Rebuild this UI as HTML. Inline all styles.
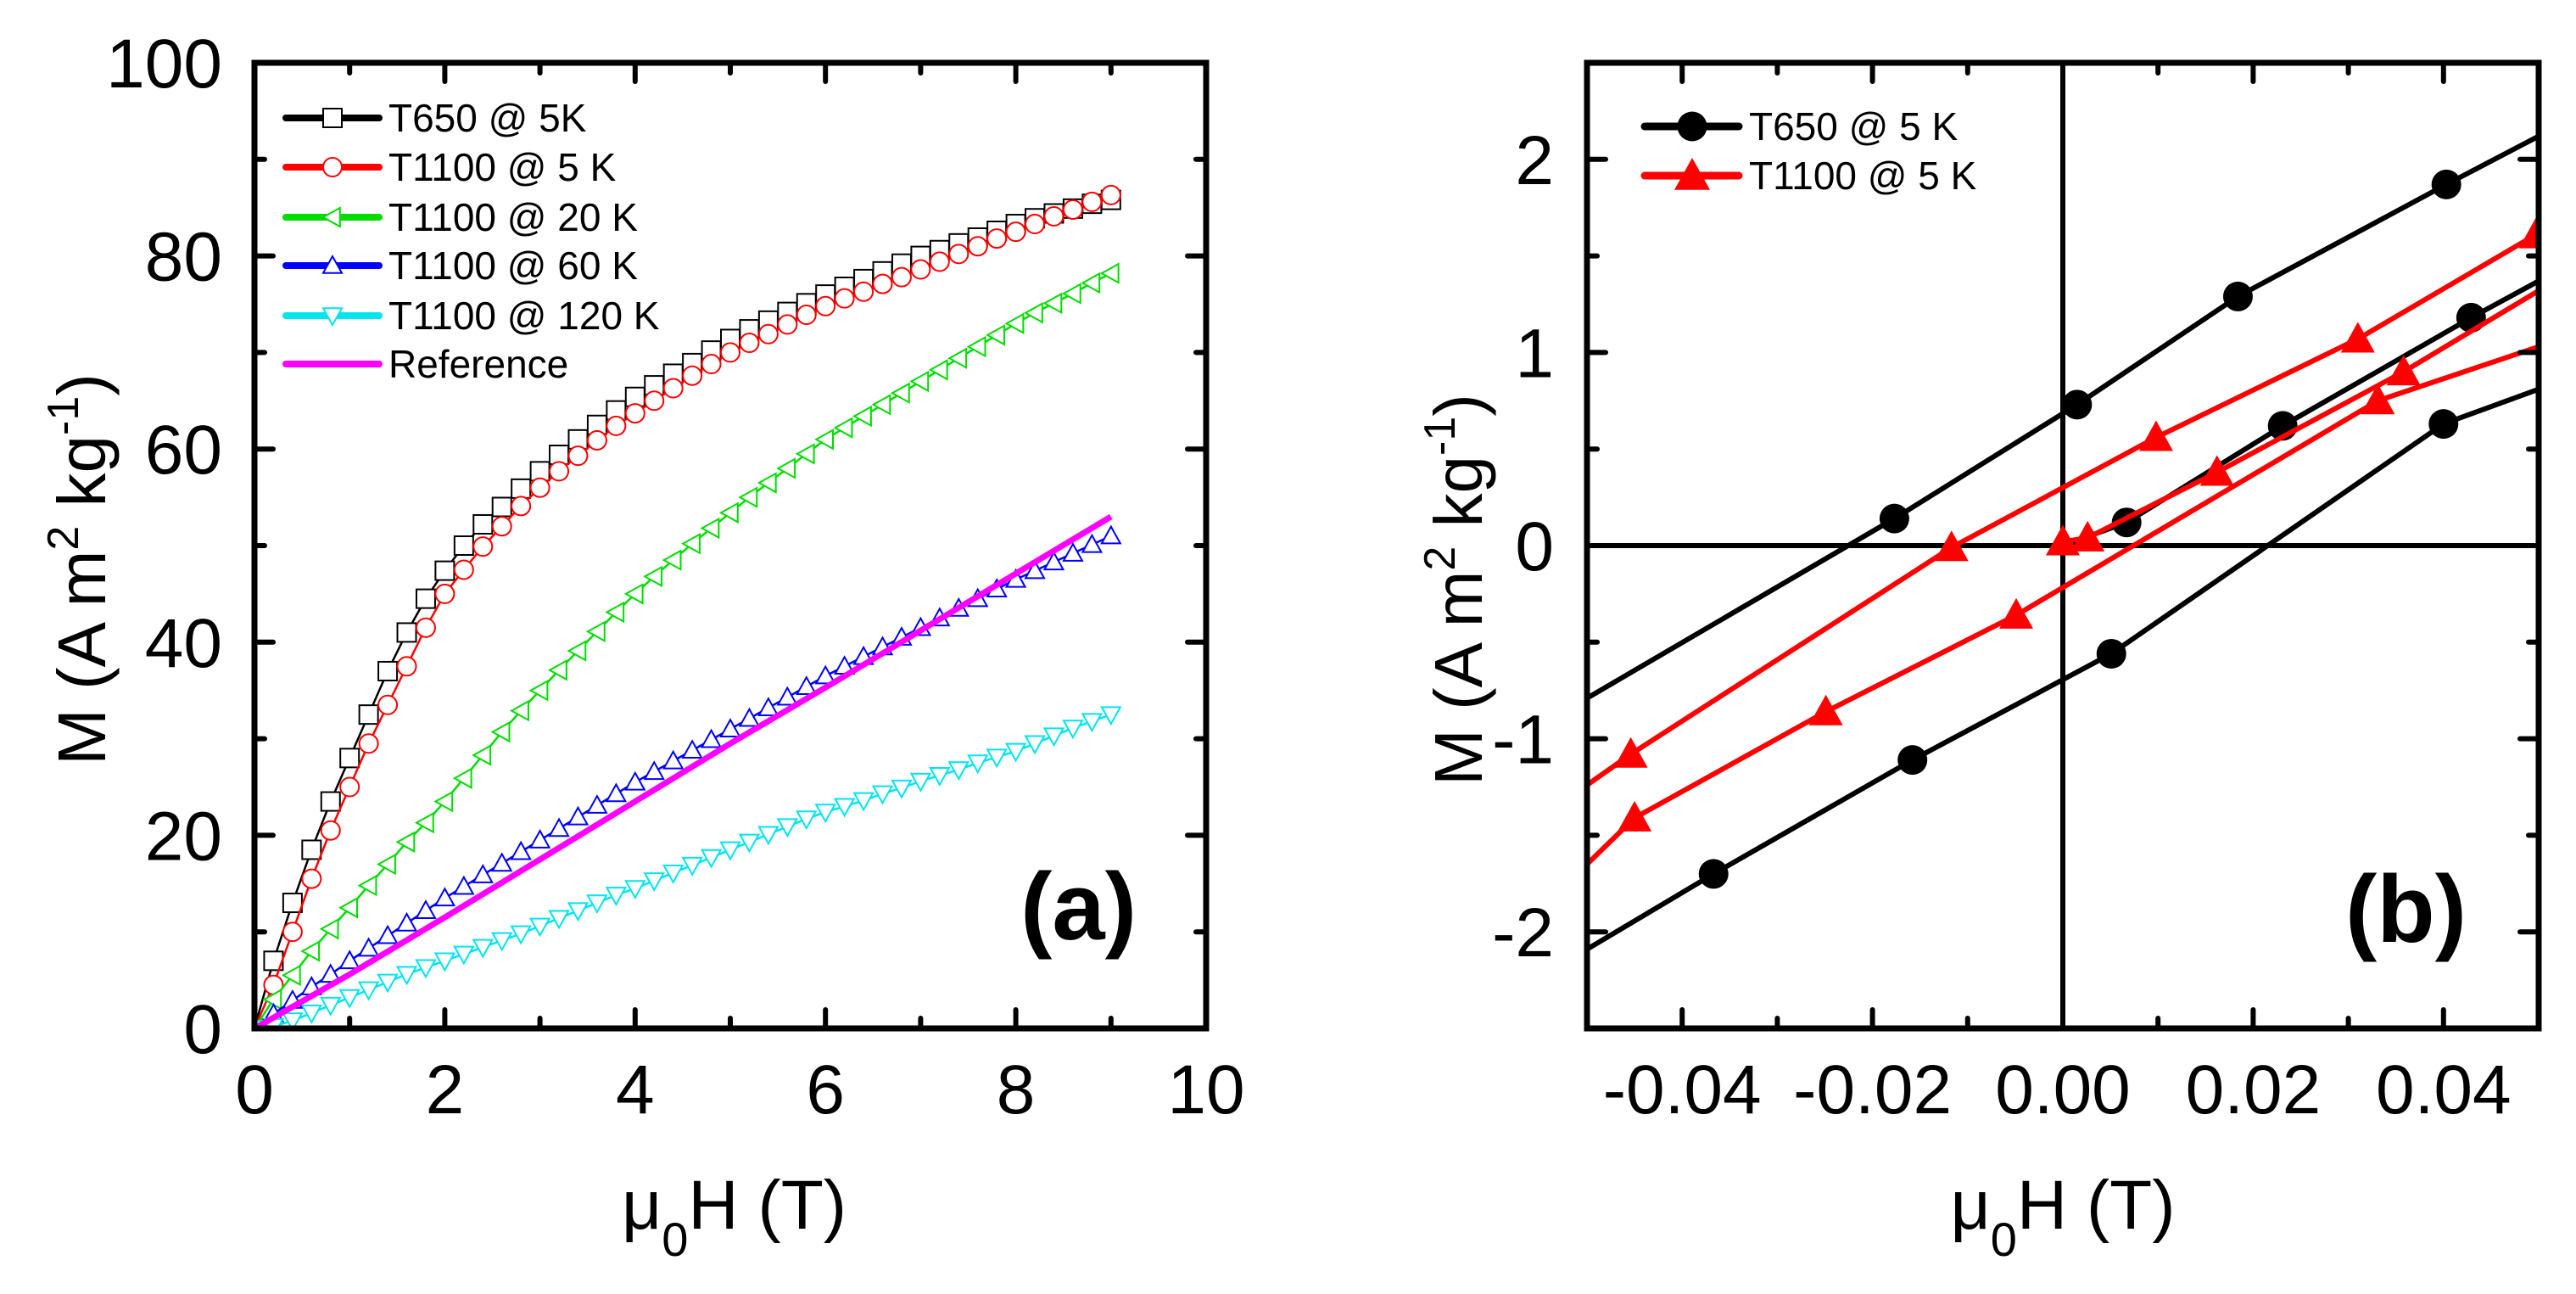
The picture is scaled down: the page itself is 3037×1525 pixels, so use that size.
<!DOCTYPE html>
<html><head><meta charset="utf-8"><style>
html,body{margin:0;padding:0;background:#fff;}
svg{display:block;font-family:"Liberation Sans",Arial,sans-serif;}
</style></head><body>
<svg id="fig" width="3037" height="1525" viewBox="0 0 3037 1525" xmlns="http://www.w3.org/2000/svg">
<defs>
<clipPath id="clipA"><rect x="300" y="74" width="1122" height="1138"/></clipPath>
<clipPath id="clipB"><rect x="1871" y="74" width="1122" height="1138"/></clipPath>
</defs>
<g id="panelA"></g>
<g id="panelB"></g>
</svg>
<script>
// ---------- Panel (a) data ----------
const hField = [0,0.2,0.4,0.6,0.8,1,1.2,1.4,1.6,1.8,2,2.2,2.4,2.6,2.8,3,3.2,3.4,3.6,3.8,4,4.2,4.4,4.6,4.8,5,5.2,5.4,5.6,5.8,6,6.2,6.4,6.6,6.8,7,7.2,7.4,7.6,7.8,8,8.2,8.4,8.6,8.8,9];
const mT650_5K = [0,7,13,18.5,23.5,28,32.5,37,41,44.5,47.4,50,52.2,54,55.9,57.7,59.4,61,62.5,64,65.4,66.6,67.8,68.9,70.2,71.4,72.4,73.3,74.2,75.1,76,76.8,77.6,78.4,79.2,80,80.6,81.3,81.9,82.6,83.3,83.9,84.4,84.9,85.4,85.8];
const mT1100_5K = [0,4.5,10,15.5,20.5,25,29.5,33.5,37.5,41.5,45,47.5,49.9,52,54.1,56,57.7,59.3,60.9,62.4,63.7,65,66.3,67.6,68.8,70,71,71.9,72.9,73.9,74.8,75.6,76.3,77.1,77.8,78.6,79.4,80.2,81,81.8,82.5,83.3,84.1,84.8,85.6,86.3];
const mT1100_20K = [0,3,5.5,8,10.3,12.5,14.8,17,19.3,21.3,23.5,25.9,28.3,30.7,32.9,35,37.1,39.1,41.1,43.1,45,46.8,48.5,50.2,51.8,53.4,55,56.5,58,59.5,61,62.2,63.4,64.6,65.8,67,68.2,69.4,70.6,71.8,73,74.1,75.1,76.1,77.2,78.2];
const mT1100_60K = [0,1.5,2.9,4.3,5.6,7,8.3,9.6,10.9,12.2,13.5,14.7,15.9,17.1,18.3,19.5,20.7,21.9,23.1,24.3,25.5,26.6,27.7,28.8,29.9,31,32.1,33.2,34.3,35.4,36.5,37.5,38.5,39.5,40.5,41.5,42.5,43.5,44.5,45.5,46.5,47.4,48.3,49.2,50.1,51];
const mT1100_120K = [0,0.2,0.8,1.6,2.4,3.2,4,4.8,5.6,6.3,7,7.7,8.4,9.1,9.8,10.6,11.4,12.2,13,13.8,14.5,15.3,16.1,16.9,17.7,18.5,19.3,20.1,20.9,21.7,22.4,23,23.6,24.3,24.9,25.6,26.2,26.8,27.5,28.1,28.7,29.5,30.3,31.1,31.8,32.5];
const refField = [0,1,2,3,4,5,6,7,8,9];
const refM = [0,5.6,11.5,17.5,23.5,29.5,35.3,41.2,47.1,53];
const aXTicks = [0,2,4,6,8,10];
const aYTicks = [0,20,40,60,80,100];
const aLegend = ["T650 @ 5K","T1100 @ 5 K","T1100 @ 20 K","T1100 @ 60 K","T1100 @ 120 K","Reference"];

// ---------- Panel (b) data ----------
const t650UpX = [0.0500,0.0403,0.0184,0.0015,-0.0177,-0.0500];
const t650UpY = [2.12,1.87,1.29,0.73,0.14,-0.79];
const t650UpMark = [0,1,1,1,1,0];
const t650DownX = [-0.0500,-0.0367,-0.0158,0.0051,0.0400,0.0500];
const t650DownY = [-2.09,-1.70,-1.11,-0.56,0.63,0.81];
const t650DownMark = [0,1,1,1,1,0];
const t650VirginX = [0,0.0067,0.0231,0.0429,0.0500];
const t650VirginY = [0,0.12,0.62,1.18,1.37];
const t650VirginMark = [0,1,1,1,0];
const t1100UpX = [0.0497,0.0310,0.0098,-0.0117,-0.0454,-0.0500];
const t1100UpY = [1.61,1.07,0.56,-0.01,-1.08,-1.24];
const t1100UpMark = [1,1,1,1,1,0];
const t1100DownX = [-0.0500,-0.0450,-0.0249,-0.0049,0.0331,0.0500];
const t1100DownY = [-1.65,-1.41,-0.86,-0.36,0.75,1.03];
const t1100DownMark = [0,1,1,1,1,0];
const t1100VirginX = [0,0.0026,0.0162,0.0358,0.0500];
const t1100VirginY = [0.02,0.04,0.38,0.90,1.32];
const t1100VirginMark = [1,1,1,1,0];
const bXTicks = [-0.04,-0.02,0.00,0.02,0.04];
const bXTickLabels = ["-0.04","-0.02","0.00","0.02","0.04"];
const bYTicks = [-2,-1,0,1,2];
const bLegend = ["T650 @ 5 K","T1100 @ 5 K"];

const NS = "http://www.w3.org/2000/svg";
function mk(tag, attrs, parent){const e=document.createElementNS(NS,tag);for(const k in attrs)e.setAttribute(k,attrs[k]);parent.appendChild(e);return e;}

const A = {x0:300,x1:1422,y0:1212,y1:74,xmin:0,xmax:10,ymin:0,ymax:100};
const B = {x0:1871,x1:2993,y0:1212,y1:74,xmin:-0.05,xmax:0.05,ymin:-2.5,ymax:2.5};
function sx(P,v){return P.x0+(v-P.xmin)/(P.xmax-P.xmin)*(P.x1-P.x0);}
function sy(P,v){return P.y0-(v-P.ymin)/(P.ymax-P.ymin)*(P.y0-P.y1);}

function frameAndTicks(P,g,xMajor,xMinorStep,yMajor,yMinorStep){
  const f=mk('rect',{x:P.x0,y:P.y1,width:P.x1-P.x0,height:P.y0-P.y1,fill:'none',stroke:'#000','stroke-width':7},g);
  
  
  const tg=mk('g',{stroke:'#000','stroke-width':6,'stroke-linecap':'round'},g);
  
  
  const nx=Math.round((P.xmax-P.xmin)/xMinorStep);
  for(let i=0;i<=nx;i++){
    const v=P.xmin+i*xMinorStep; const X=sx(P,v);
    const major=xMajor.some(t=>Math.abs(t-v)<xMinorStep*0.01);
    const L=major?22:12;
    mk('line',{x1:X,y1:P.y0,x2:X,y2:P.y0-L},tg);
    mk('line',{x1:X,y1:P.y1,x2:X,y2:P.y1+L},tg);
  }
  const ny=Math.round((P.ymax-P.ymin)/yMinorStep);
  for(let i=0;i<=ny;i++){
    const v=P.ymin+i*yMinorStep; const Y=sy(P,v);
    const major=yMajor.some(t=>Math.abs(t-v)<yMinorStep*0.01);
    const L=major?22:12;
    mk('line',{x1:P.x0,y1:Y,x2:P.x0+L,y2:Y},tg);
    mk('line',{x1:P.x1,y1:Y,x2:P.x1-L,y2:Y},tg);
  }
}
function tickLabels(P,g,xt,xl,yt,yRight){
  xt.forEach((v,i)=>{const t=mk('text',{x:sx(P,v),y:1312,'font-size':82,'text-anchor':'middle'},g);t.textContent=xl[i];
    
    });
  yt.forEach(v=>{const t=mk('text',{x:yRight,y:sy(P,v)+29,'font-size':82,'text-anchor':'end'},g);t.textContent=String(v);
    
    });
}
function marker(g,type,x,y,s,color,fill,sw){
  let e;
  if(type==='square') e=mk('rect',{x:x-s/2,y:y-s/2,width:s,height:s},g);
  else if(type==='circle') e=mk('circle',{cx:x,cy:y,r:s/2},g);
  else {
    const h=s*0.5; let pts;
    if(type==='up') pts=[[x,y-h],[x-h,y+h*0.8],[x+h,y+h*0.8]];
    else if(type==='down') pts=[[x,y+h],[x-h,y-h*0.8],[x+h,y-h*0.8]];
    else pts=[[x-h,y],[x+h*0.8,y-h],[x+h*0.8,y+h]];
    e=mk('polygon',{points:pts.map(p=>p.join(',')).join(' ')},g);
  }
  e.setAttribute('fill',fill); e.setAttribute('stroke',color); e.setAttribute('stroke-width',sw);
  return e;
}

// ---------- Build panel (a) ----------
const gA=document.getElementById('panelA');
const dA=mk('g',{'clip-path':'url(#clipA)'},gA);


const seriesA=[
 {name:'series-t650-5k',m:mT650_5K,c:'#000000',t:'square'},
 {name:'series-t1100-5k',m:mT1100_5K,c:'#ff0000',t:'circle'},
 {name:'series-t1100-20k',m:mT1100_20K,c:'#00dd00',t:'left'},
 {name:'series-t1100-60k',m:mT1100_60K,c:'#0000ff',t:'up'},
 {name:'series-t1100-120k',m:mT1100_120K,c:'#00e5ee',t:'down'}
];
seriesA.forEach(s=>{
  const g=mk('g',{},dA);
  
  
  mk('polyline',{points:hField.map((h,i)=>sx(A,h)+','+sy(A,s.m[i])).join(' '),fill:'none',stroke:s.c,'stroke-width':2.5},g);
  hField.forEach((h,i)=>{const e=marker(g,s.t,sx(A,h),sy(A,s.m[i]),22,s.c,'#fff',2);
    
    });
});
const refLine=mk('polyline',{points:refField.map((h,i)=>sx(A,h)+','+sy(A,refM[i])).join(' '),fill:'none',stroke:'#ff00ff','stroke-width':7},dA);


frameAndTicks(A,gA,aXTicks,1,aYTicks,10);
tickLabels(A,gA,aXTicks,aXTicks.map(String),aYTicks,262);
const legA=mk('g',{},gA);


const legAY=[139,197,256,313,372,429];
const legACol=['#000000','#ff0000','#00dd00','#0000ff','#00e5ee','#ff00ff'];
const legAType=['square','circle','left','up','down',null];
aLegend.forEach((lab,i)=>{
  const g=mk('g',{},legA);
  
  
  mk('line',{x1:337,y1:legAY[i],x2:447,y2:legAY[i],stroke:legACol[i],'stroke-width':8,'stroke-linecap':'round'},g);
  if(legAType[i]) marker(g,legAType[i],392,legAY[i],22,legACol[i],'#fff',2);
  const t=mk('text',{x:458,y:legAY[i]+16,'font-size':46},g); t.textContent=lab;
});
const la=mk('text',{x:1340,y:1107,'font-size':112,'font-weight':'bold','text-anchor':'end'},gA);
la.textContent='(a)';


const xta=mk('text',{x:733,y:1448,'font-size':82},gA);
xta.innerHTML='μ<tspan font-size="56" dy="32">0</tspan><tspan dy="-32">H (T)</tspan>';


const yta=mk('text',{x:0,y:0,'font-size':80,'text-anchor':'middle',transform:'translate(124,671) rotate(-90)'},gA);
yta.innerHTML='M (A m<tspan font-size="52" dy="-32">2</tspan><tspan dy="32"> kg</tspan><tspan font-size="52" dy="-32">-1</tspan><tspan dy="32">)</tspan>';



// ---------- Build panel (b) ----------
const gB=document.getElementById('panelB');
const dB=mk('g',{'clip-path':'url(#clipB)'},gB);


const zx=mk('line',{x1:sx(B,0),y1:B.y1,x2:sx(B,0),y2:B.y0,stroke:'#000','stroke-width':6},dB);


const zy=mk('line',{x1:B.x0,y1:sy(B,0),x2:B.x1,y2:sy(B,0),stroke:'#000','stroke-width':6},dB);


const branches=[
 {name:'t650-descending',x:t650UpX,y:t650UpY,m:t650UpMark,c:'#000',t:'circle'},
 {name:'t650-ascending',x:t650DownX,y:t650DownY,m:t650DownMark,c:'#000',t:'circle'},
 {name:'t650-virgin',x:t650VirginX,y:t650VirginY,m:t650VirginMark,c:'#000',t:'circle'},
 {name:'t1100-descending',x:t1100UpX,y:t1100UpY,m:t1100UpMark,c:'#ff0000',t:'up'},
 {name:'t1100-ascending',x:t1100DownX,y:t1100DownY,m:t1100DownMark,c:'#ff0000',t:'up'},
 {name:'t1100-virgin',x:t1100VirginX,y:t1100VirginY,m:t1100VirginMark,c:'#ff0000',t:'up'}
];
branches.forEach(b=>{
  const g=mk('g',{},dB);
  
  
  mk('polyline',{points:b.x.map((v,i)=>sx(B,v)+','+sy(B,b.y[i])).join(' '),fill:'none',stroke:b.c,'stroke-width':6},g);
  b.x.forEach((v,i)=>{ if(b.m[i]){const e=marker(g,b.t,sx(B,v),sy(B,b.y[i]),b.t==='circle'?35:40,b.c,b.c,0);
    
    }});
});
frameAndTicks(B,gB,bXTicks,0.01,bYTicks,0.5);
tickLabels(B,gB,bXTicks,bXTickLabels,bYTicks,1832);
const legB=mk('g',{},gB);


const legBY=[149,207], legBCol=['#000','#ff0000'], legBType=['circle','up'];
bLegend.forEach((lab,i)=>{
  const g=mk('g',{},legB);
  
  
  mk('line',{x1:1939,y1:legBY[i],x2:2050,y2:legBY[i],stroke:legBCol[i],'stroke-width':9,'stroke-linecap':'round'},g);
  marker(g,legBType[i],1995,legBY[i],legBType[i]==='circle'?35:42,legBCol[i],legBCol[i],0);
  const t=mk('text',{x:2062,y:legBY[i]+16,'font-size':46},g); t.textContent=lab;
});
const lb=mk('text',{x:2908,y:1110,'font-size':112,'font-weight':'bold','text-anchor':'end'},gB);
lb.textContent='(b)';


const xtb=mk('text',{x:2432,y:1448,'font-size':82,'text-anchor':'middle'},gB);
xtb.innerHTML='μ<tspan font-size="56" dy="32">0</tspan><tspan dy="-32">H (T)</tspan>';


const ytb=mk('text',{x:0,y:0,'font-size':80,'text-anchor':'middle',transform:'translate(1747,695) rotate(-90)'},gB);
ytb.innerHTML='M (A m<tspan font-size="52" dy="-32">2</tspan><tspan dy="32"> kg</tspan><tspan font-size="52" dy="-32">-1</tspan><tspan dy="32">)</tspan>';


</script>
</body></html>
